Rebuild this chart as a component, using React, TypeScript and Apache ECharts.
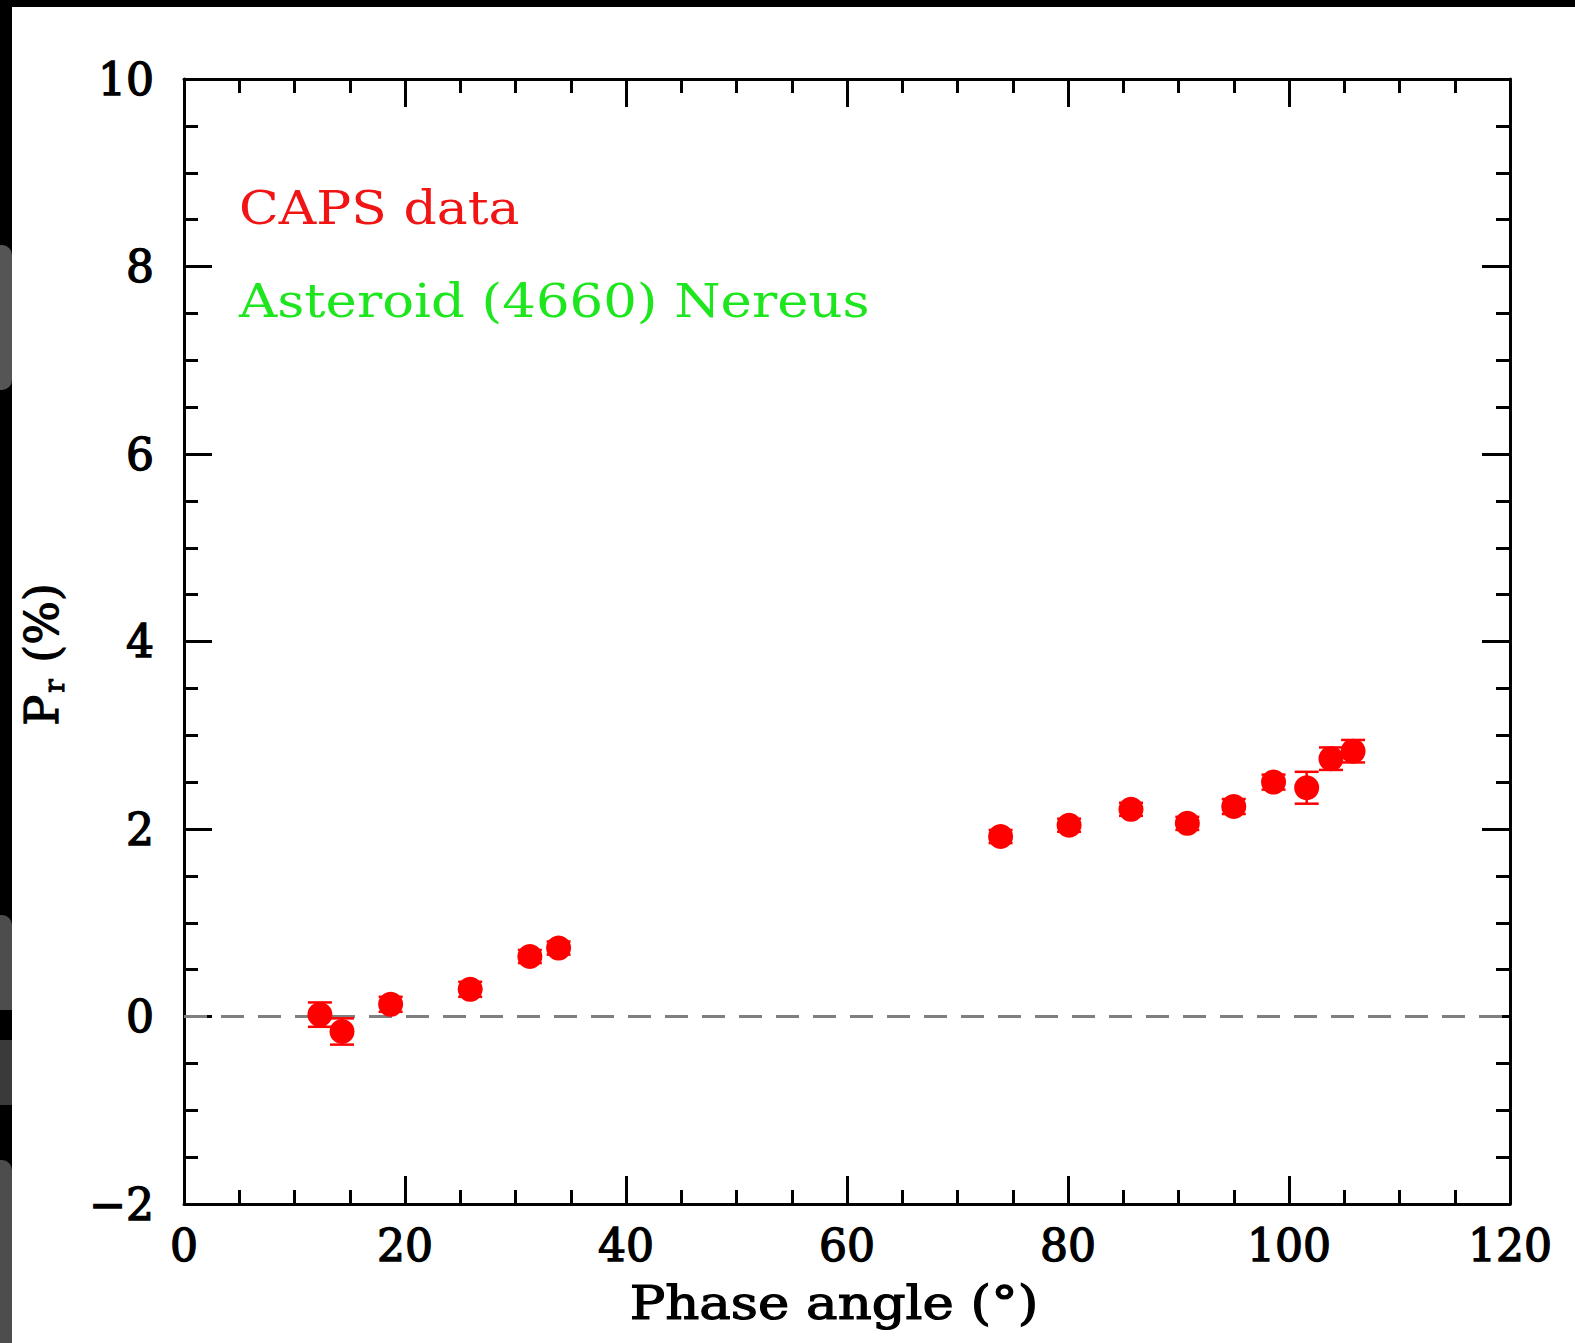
import { useEffect, useRef } from "react";
import * as echarts from "echarts";

// Phase angle (deg) and polarization Pr (%) of asteroid (4660) Nereus, CAPS data
const phaseAngle = [12.3, 14.3, 18.7, 25.9, 31.3, 33.9, 73.9, 80.1, 85.7, 90.8, 95.0, 98.6, 101.6, 103.8, 105.8];
const polarization = [0.02, -0.16, 0.13, 0.29, 0.64, 0.73, 1.92, 2.04, 2.21, 2.06, 2.24, 2.5, 2.44, 2.75, 2.83];
const polarizationErr = [0.13, 0.14, 0.08, 0.08, 0.07, 0.07, 0.07, 0.07, 0.07, 0.07, 0.08, 0.08, 0.17, 0.12, 0.12];

const xRange = [0, 120];
const xStep = 20;
const yRange = [-2, 10];
const yStep = 2;
const zeroLevel = 0;

const titleText = "CAPS data";
const objectText = "Asteroid (4660) Nereus";
const xName = "Phase angle (°)";

const FONT = '"DejaVu Serif", serif';

export default function App() {
  const ref = useRef<HTMLDivElement>(null);

  useEffect(() => {
    if (!ref.current) return;
    const chart = echarts.init(ref.current, null, { renderer: "svg" });

    const axisLineStyle = { color: "#000", width: 3 };
    const tickCommon = {
      axisLine: { show: true, onZero: false, lineStyle: axisLineStyle },
      axisTick: { show: true, inside: true, length: 28, lineStyle: { color: "#000", width: 3 } },
      minorTick: { show: true, splitNumber: 4, length: 14, lineStyle: { color: "#000", width: 3 } },
      splitLine: { show: false },
      minorSplitLine: { show: false },
    };
    const labelStyle = {
      fontSize: 44,
      fontFamily: FONT,
      fontWeight: "normal" as const,
      color: "#000",
      textBorderColor: "#000",
      textBorderWidth: 1.4,
    };
    const fmt = (v: number) => (v < 0 ? "\u2212" + Math.abs(v) : String(v));

    const errData = phaseAngle.map((x, i) => [x, polarization[i], polarizationErr[i]]);
    const ptData = phaseAngle.map((x, i) => [x, polarization[i]]);

    chart.setOption({
      animation: false,
      backgroundColor: "#fff",
      grid: { left: 184, right: 65, top: 79, bottom: 139, containLabel: false },
      xAxis: [
        {
          type: "value",
          position: "bottom",
          min: xRange[0],
          max: xRange[1],
          interval: xStep,
          ...tickCommon,
          axisLabel: { ...labelStyle, margin: 19, formatter: fmt },
        },
        {
          type: "value",
          position: "top",
          min: xRange[0],
          max: xRange[1],
          interval: xStep,
          ...tickCommon,
          axisLabel: { show: false },
        },
      ],
      yAxis: [
        {
          type: "value",
          position: "left",
          min: yRange[0],
          max: yRange[1],
          interval: yStep,
          ...tickCommon,
          axisLabel: { ...labelStyle, margin: 30, formatter: fmt },
          name: "{a|P}{b|r}{a| (%)}",
          nameLocation: "middle",
          nameGap: 116,
          nameTextStyle: {
            padding: [0, 26, 0, 0],
            rich: {
              a: {
                fontSize: 46,
                fontFamily: FONT,
                fontWeight: "normal",
                color: "#000",
                textBorderColor: "#000",
                textBorderWidth: 1.2,
              },
              b: {
                fontSize: 28,
                fontFamily: FONT,
                fontWeight: "normal",
                color: "#000",
                textBorderColor: "#000",
                textBorderWidth: 1,
                verticalAlign: "bottom",
                padding: [24, 2, 0, 2],
              },
            },
          },
        },
        {
          type: "value",
          position: "right",
          min: yRange[0],
          max: yRange[1],
          interval: yStep,
          ...tickCommon,
          axisLabel: { show: false },
        },
      ],
      graphic: [
        { type: "rect", shape: { x: 0, y: 0, width: 1575, height: 7 }, style: { fill: "#000" }, z: 100 },
        { type: "rect", shape: { x: 0, y: 0, width: 12, height: 1343 }, style: { fill: "#000" }, z: 100 },
        { type: "rect", shape: { x: 0, y: 245, width: 12, height: 145, r: [0, 10, 10, 0] }, style: { fill: "#555" }, z: 101 },
        { type: "rect", shape: { x: 0, y: 915, width: 12, height: 95, r: [0, 10, 0, 0] }, style: { fill: "#4d4d4d" }, z: 101 },
        { type: "rect", shape: { x: 0, y: 1040, width: 12, height: 65 }, style: { fill: "#3a3a3a" }, z: 101 },
        { type: "rect", shape: { x: 0, y: 1160, width: 12, height: 183, r: [0, 10, 0, 0] }, style: { fill: "#4d4d4d" }, z: 101 },
        {
          type: "text",
          x: 239,
          y: 208,
          scaleX: 1.13,
          style: {
            text: titleText,
            fill: "#f01414",
            font: `normal 46px ${FONT}`,
            verticalAlign: "middle",
            align: "left",
          },
          z: 50,
        },
        {
          type: "text",
          x: 239,
          y: 301,
          scaleX: 1.15,
          style: {
            text: objectText,
            fill: "#1ee61e",
            font: `normal 46px ${FONT}`,
            verticalAlign: "middle",
            align: "left",
          },
          z: 50,
        },
        {
          type: "text",
          x: 834,
          y: 1303,
          scaleX: 1.15,
          style: {
            text: xName,
            fill: "#000",
            stroke: "#000",
            lineWidth: 1.2,
            font: `normal 46px ${FONT}`,
            verticalAlign: "middle",
            align: "center",
          },
          z: 50,
        },
      ],
      series: [
        {
          type: "custom",
          name: "errors",
          xAxisIndex: 0,
          yAxisIndex: 0,
          z: 2,
          data: errData,
          encode: { x: 0, y: 1 },
          renderItem: (_params: any, api: any) => {
            const x = api.value(0);
            const y = api.value(1);
            const e = api.value(2);
            const lo = api.coord([x, y - e]);
            const hi = api.coord([x, y + e]);
            const half = 12;
            const style = { stroke: "#ff0000", lineWidth: 2.5 };
            return {
              type: "group",
              children: [
                { type: "line", shape: { x1: lo[0], y1: lo[1], x2: hi[0], y2: hi[1] }, style },
                { type: "line", shape: { x1: lo[0] - half, y1: lo[1], x2: lo[0] + half, y2: lo[1] }, style },
                { type: "line", shape: { x1: hi[0] - half, y1: hi[1], x2: hi[0] + half, y2: hi[1] }, style },
              ],
            };
          },
          markLine: {
            silent: true,
            symbol: "none",
            label: { show: false },
            lineStyle: { color: "#7f7f7f", width: 3, type: [23, 14] },
            data: [{ yAxis: zeroLevel }],
            z: 1,
          },
        },
        {
          type: "scatter",
          name: "CAPS",
          xAxisIndex: 0,
          yAxisIndex: 0,
          z: 3,
          symbol: "circle",
          symbolSize: 25,
          itemStyle: { color: "#ff0000", opacity: 1 },
          data: ptData,
        },
      ],
    });

    return () => chart.dispose();
  }, []);

  return (
    <div
      ref={ref}
      style={{ position: "fixed", left: 0, top: 0, width: 1575, height: 1343 }}
    />
  );
}
